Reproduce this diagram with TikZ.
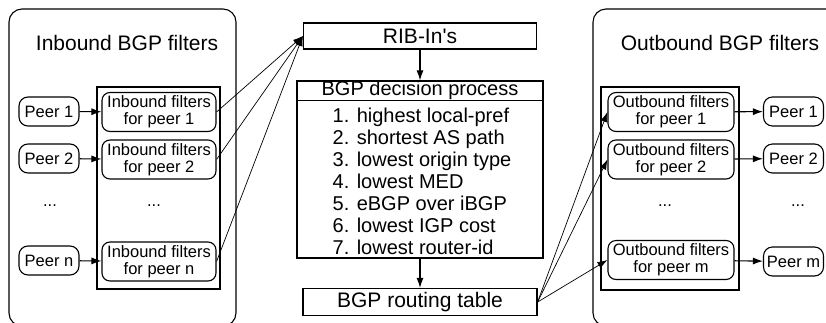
\documentclass[tikz,border=0pt]{standalone}
\usepackage{fontspec}
\setmainfont{Liberation Sans}[Ligatures=TeXOff]
\usetikzlibrary{arrows.meta,positioning}

\begin{document}
\begin{tikzpicture}[x=1pt,y=-1pt,
    peer/.style={draw,rounded corners=9pt,line width=1.1pt,minimum width=60pt,minimum height=29pt,inner sep=0pt,font=\fontsize{16.5}{18}\selectfont},
    filt/.style={draw,rounded corners=8pt,line width=1.1pt,minimum height=39pt,inner sep=0pt,align=center,font=\fontsize{16.5}{17}\selectfont},
    box/.style={draw,line width=1.2pt,inner sep=0pt,font=\fontsize{21}{22}\selectfont},
    arr/.style={-{Latex[length=10pt,width=7pt]},line width=1.1pt},
    fan/.style={-{Latex[length=10pt,width=7pt]},line width=0.7pt}]
  \useasboundingbox (0,0) rectangle (826,322);
  \clip (0,0) rectangle (826,322);
    % groups
  \draw[rounded corners=13pt,line width=1.1pt] (9,9) rectangle (236,326);
  \draw[rounded corners=13pt,line width=1.1pt] (593,9) rectangle (850,326);
  \draw[line width=1.2pt] (97,87) rectangle (220,289);
  \draw[line width=1.2pt] (601,87) rectangle (739,290);
  \node[font=\fontsize{21}{22}\selectfont] (intitle) at (127,43) {Inbound BGP filters};
  \node[font=\fontsize{21}{22}\selectfont] (outtitle) at (720,43) {Outbound BGP filters};
    % inbound side
  \node[peer] (pl1) at (49,111.5) {Peer 1};
  \node[peer] (pl2) at (49,158.5) {Peer 2};
  \node[peer] (pln) at (49,260.5) {Peer n};
  \node[filt,minimum width=114pt] (fl1) at (159,112) {Inbound filters\\for peer 1};
  \node[filt,minimum width=114pt] (fl2) at (159,159.5) {Inbound filters\\for peer 2};
  \node[filt,minimum width=114pt] (fln) at (159,261.5) {Inbound filters\\for peer n};
  \node[font=\fontsize{16.5}{18}\selectfont] (dl1) at (50,206) {...};
  \node[font=\fontsize{16.5}{18}\selectfont] (dl2) at (154,206) {...};
    % decision
  \node[box,minimum width=233pt,minimum height=26pt] (rib) at (420,36) {RIB-In's};
  \node[box,minimum width=246pt,minimum height=177pt] (dec) at (420,169.5) {};
  \draw[line width=1.2pt] ([yshift=-20pt]dec.north west) -- ([yshift=-20pt]dec.north east);
  \node[font=\fontsize{20}{22}\selectfont] (dechead) at ([yshift=-10pt]dec.north) {BGP decision process};
  \node[align=left,font=\fontsize{20}{22}\selectfont] (declist) at (422,181) {1. highest local-pref\\2. shortest AS path\\3. lowest origin type\\4. lowest MED\\5. eBGP over iBGP\\6. lowest IGP cost\\7. lowest router-id};
  \node[box,minimum width=234pt,minimum height=27pt] (rt) at (420,302) {BGP routing table};
    % outbound side
  \node[filt,minimum width=126pt] (fr1) at (671,112) {Outbound filters\\for peer 1};
  \node[filt,minimum width=126pt] (fr2) at (671,159.5) {Outbound filters\\for peer 2};
  \node[filt,minimum width=126pt] (frm) at (671,260) {Outbound filters\\for peer m};
  \node[peer] (pr1) at (793.5,111.5) {Peer 1};
  \node[peer] (pr2) at (793.5,158.5) {Peer 2};
  \node[peer] (prm) at (793.5,261.5) {Peer m};
  \node[font=\fontsize{16.5}{18}\selectfont] (dr1) at (665,206) {...};
  \node[font=\fontsize{16.5}{18}\selectfont] (dr2) at (798,206) {...};
    % arrows
  \foreach \i in {1,2,n} {
    \draw[arr] (pl\i) -- (fl\i);
    \draw[fan] (fl\i.east) -- (rib.west);
  }
  \draw[arr] (rib) -- (dec);
  \draw[arr] (dec) -- (rt);
  \foreach \i in {1,2,m} {
    \draw[fan] (rt.east) -- (fr\i.west);
    \draw[arr] (fr\i) -- (pr\i);
  }
\end{tikzpicture}
\end{document}
